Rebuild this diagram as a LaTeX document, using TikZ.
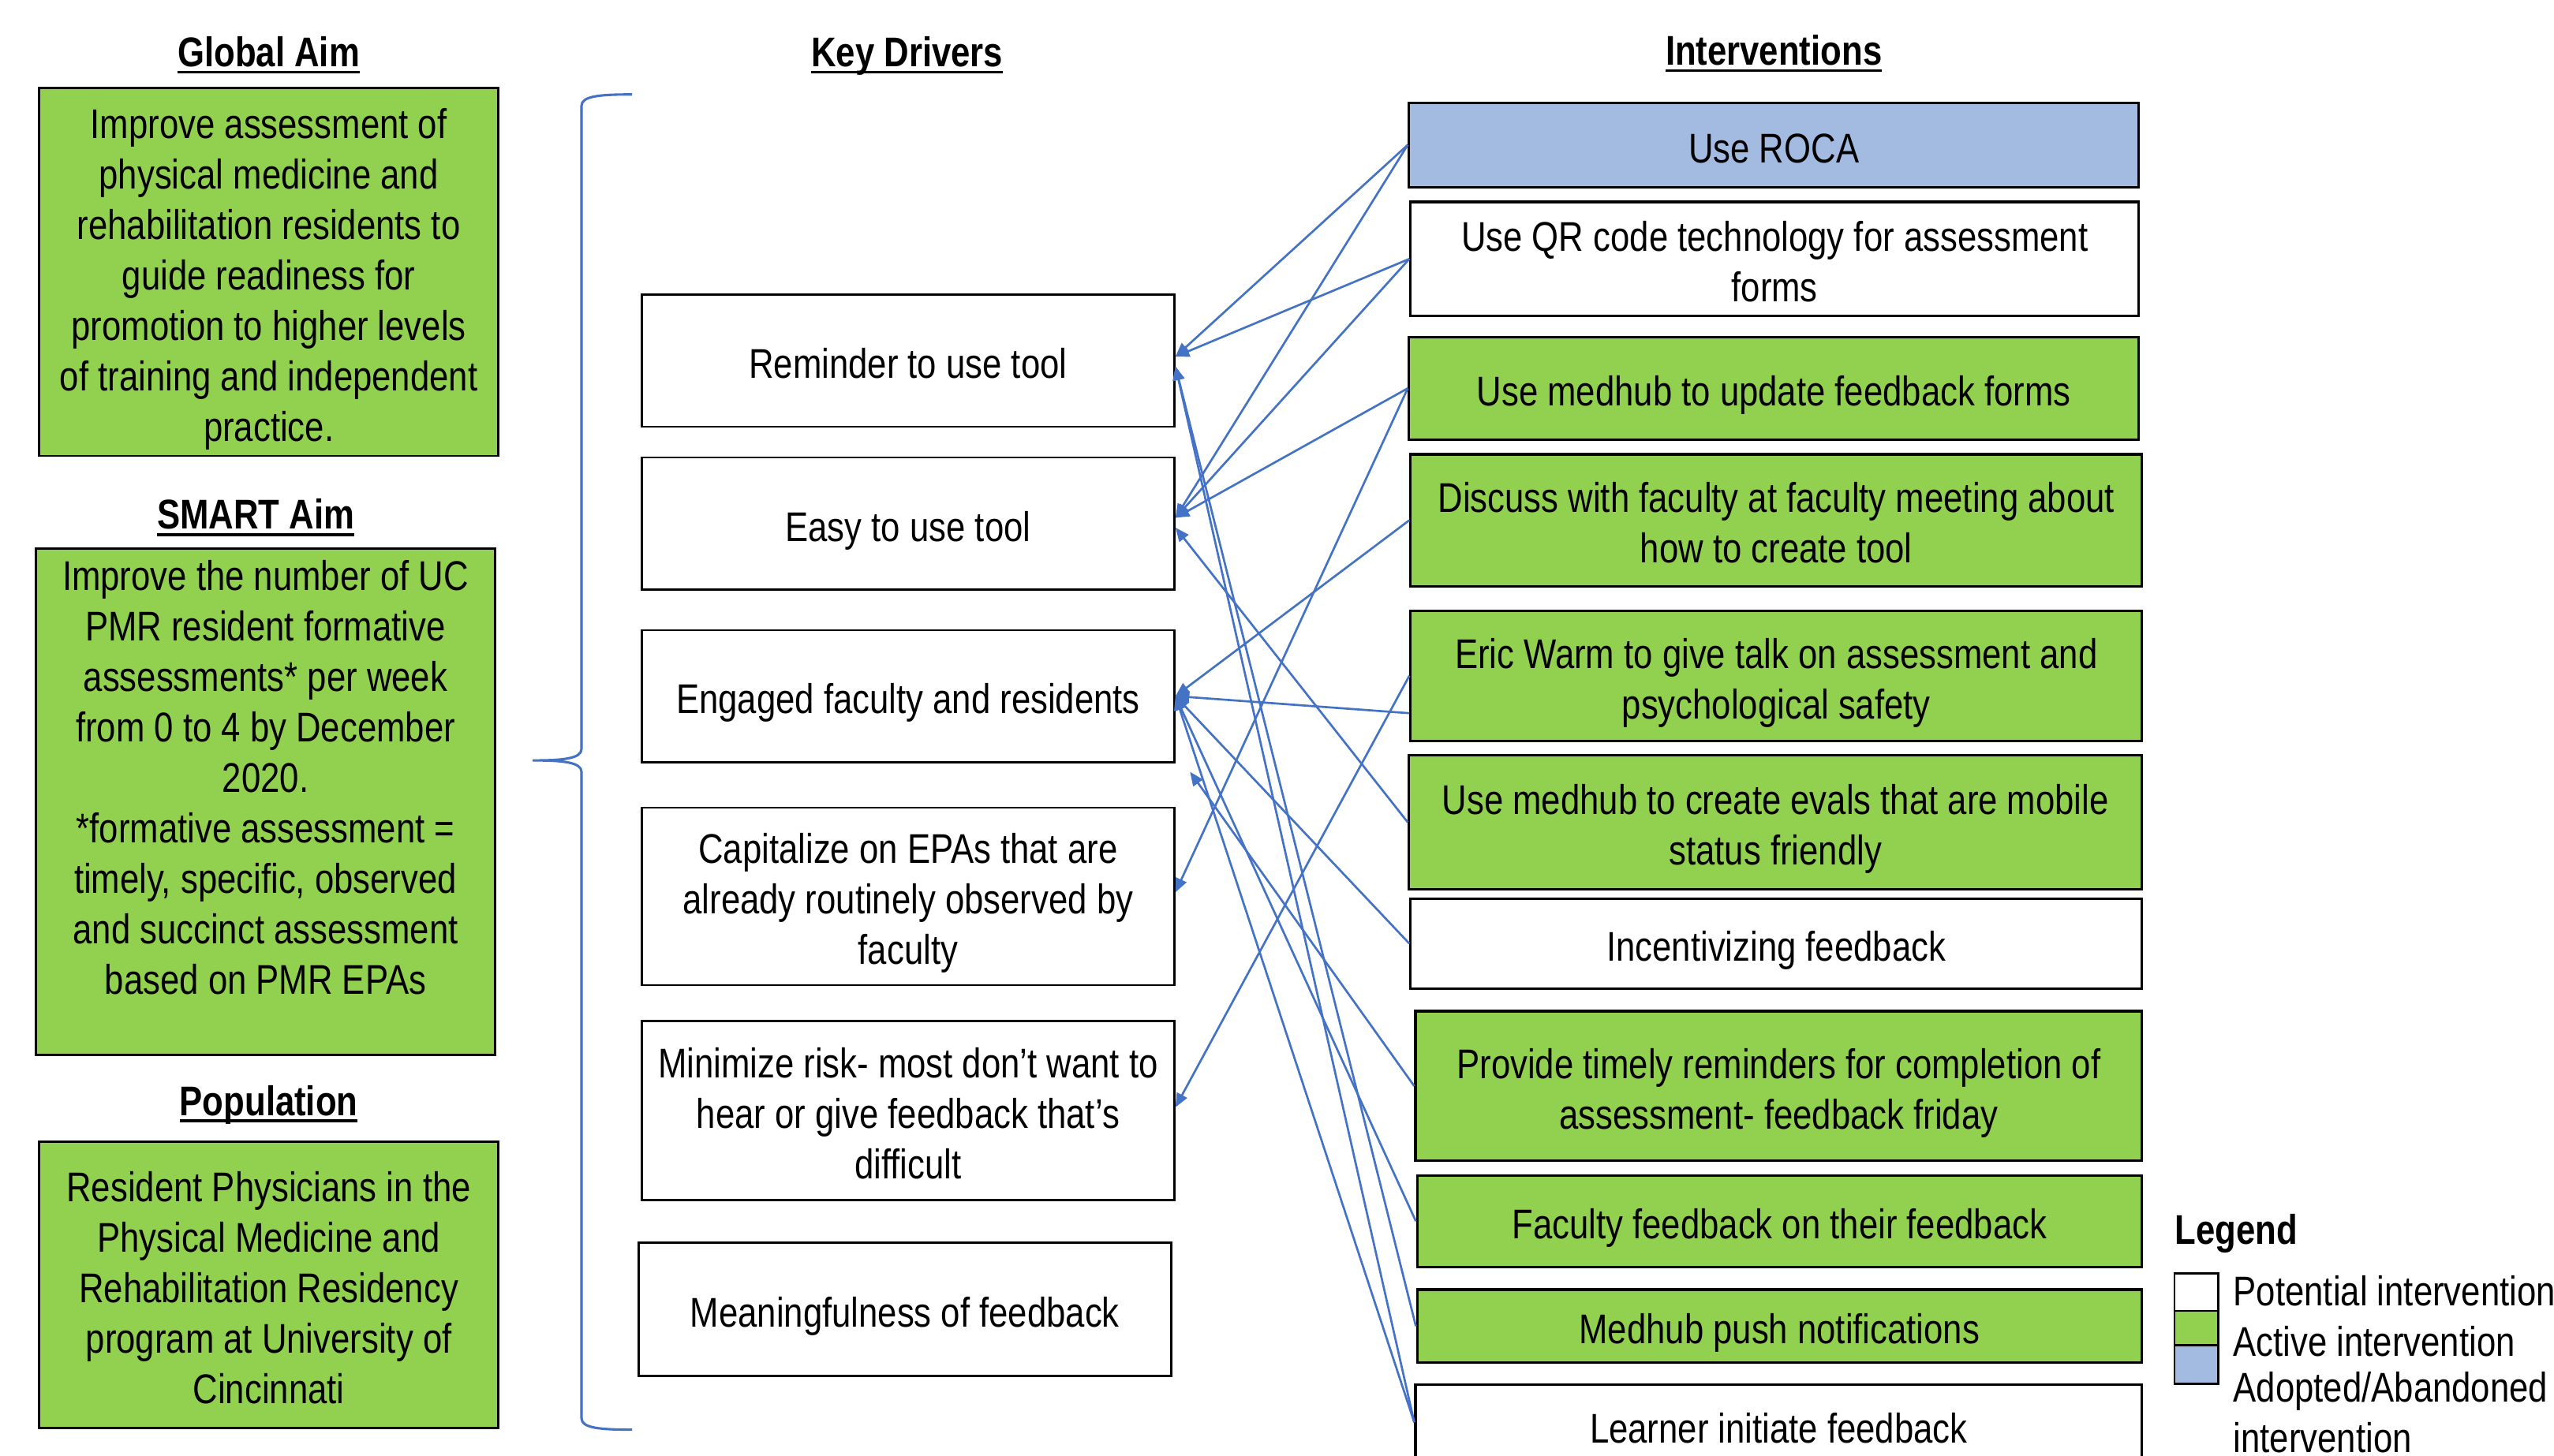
\documentclass[tikz,border=0pt]{standalone}
\usepackage{fontspec}
\setmainfont{Liberation Sans}[FakeStretch=0.83]
\usetikzlibrary{arrows.meta}
\definecolor{boxgreen}{RGB}{146,208,80}
\definecolor{boxblue}{RGB}{163,186,225}
\definecolor{linkblue}{RGB}{68,114,196}
\newcommand\fs{\fontsize{25.5}{31}\selectfont}
\newcommand\myul[1]{\setbox0=\hbox{#1}\rlap{\rule[-4.2pt]{\wd0}{1.8pt}}\box0}
\newcommand\topstrut{\rule{0pt}{27.6pt}}
\newcommand\botstrut{\rule[-6pt]{0pt}{6pt}}
\begin{document}
\begin{tikzpicture}[x=1pt,y=-1pt,
  box/.style={draw=black, line width=1.3pt, inner sep=0pt, align=center, font=\fs,
    execute at begin node=\topstrut, execute at end node=\botstrut},
  gbox/.style={box, fill=boxgreen},
  bbox/.style={box, fill=boxblue},
  wbox/.style={box, fill=white},
  ibox/.style={line width=1.5pt},
  head/.style={font=\fs\bfseries, inner sep=0pt, anchor=base},
  plain/.style={font=\fs, inner sep=0pt, align=center},
  conn/.style={draw=linkblue, line width=1.3pt, -{Triangle[length=8.5pt,width=7pt]}},
  bracestyle/.style={draw=linkblue, line width=1.5pt}]
\useasboundingbox (0,0) rectangle (1568,894);
\clip (0,0) rectangle (1568,894);
\fill[white] (0,0) rectangle (1568,894);

% headers
\node[head] (hga) at (165,41) {\myul{Global Aim}};
\node[head] (hkd) at (557,41) {\myul{Key Drivers}};
\node[head] (hint) at (1089,40) {\myul{Interventions}};
\node[head] (hsm) at (157,325) {\myul{SMART Aim}};
\node[head] (hpop) at (165,685) {\myul{Population}};
\node[head, anchor=base west] (hleg) at (1335,764) {Legend};

% left column
\node[gbox, minimum width=282, minimum height=226] (ga) at (165,167)
  {\topstrut Improve assessment of\\physical medicine and\\rehabilitation residents to\\guide readiness for\\promotion to higher levels\\of training and independent\\practice.\botstrut};
\node[gbox, minimum width=282, minimum height=311] (sm) at (163,492.5) {};
\node[plain] (smt) at (163,477.5)
  {Improve the number of UC\\PMR resident formative\\assessments* per week\\from 0 to 4 by December\\2020.\\*formative assessment =\\timely, specific, observed\\and succinct assessment\\based on PMR EPAs};
\node[gbox, minimum width=282, minimum height=176] (pop) at (165,789)
  {\topstrut Resident Physicians in the\\Physical Medicine and\\Rehabilitation Residency\\program at University of\\Cincinnati\botstrut};

% brace
\draw[bracestyle] (388,58) .. controls (368,58) and (357,59) .. (357,65) -- (357,460)
  .. controls (357,466) and (345,467) .. (327,467)
  .. controls (345,467) and (357,468) .. (357,474) -- (357,871)
  .. controls (357,877) and (368,878) .. (388,878);

% key drivers
\node[wbox, minimum width=327, minimum height=81] (rem) at (557.5,221.5) {Reminder to use tool};
\node[wbox, minimum width=327, minimum height=81] (easy) at (557.5,321.5) {Easy to use tool};
\node[wbox, minimum width=327, minimum height=81] (eng) at (557.5,427.5) {Engaged faculty and residents};
\node[wbox, minimum width=327, minimum height=109] (cap) at (557.5,550.5)
  {\topstrut Capitalize on EPAs that are\\already routinely observed by\\faculty\botstrut};
\node[wbox, minimum width=327, minimum height=110] (mini) at (557.5,682)
  {\topstrut Minimize risk- most don’t want to\\hear or give feedback that’s\\difficult\botstrut};
\node[wbox, minimum width=327, minimum height=82] (mean) at (555.5,804) {Meaningfulness of feedback};

% interventions
\node[bbox, ibox, minimum width=448, minimum height=52] (roca) at (1089,89) {Use ROCA};
\node[wbox, ibox, minimum width=447, minimum height=70] (qr) at (1089.5,159)
  {\topstrut Use QR code technology for assessment\\forms\botstrut};
\node[gbox, ibox, minimum width=448, minimum height=63] (mupd) at (1089,238.5)
  {Use medhub to update feedback forms};
\node[gbox, ibox, minimum width=449, minimum height=81] (disc) at (1090.5,319.5)
  {\topstrut Discuss with faculty at faculty meeting about\\how to create tool\botstrut};
\node[gbox, ibox, minimum width=449, minimum height=80] (eric) at (1090.5,415)
  {\topstrut Eric Warm to give talk on assessment and\\psychological safety\botstrut};
\node[gbox, ibox, minimum width=450, minimum height=82] (evals) at (1090,505)
  {\topstrut Use medhub to create evals that are mobile\\status friendly\botstrut};
\node[wbox, ibox, minimum width=449, minimum height=55] (incent) at (1090.5,579.5)
  {Incentivizing feedback};
\node[gbox, ibox, minimum width=446, minimum height=92] (prov) at (1092,667)
  {\topstrut Provide timely reminders for completion of\\assessment- feedback friday\botstrut};
\node[gbox, ibox, minimum width=445, minimum height=56] (facfb) at (1092.5,750)
  {Faculty feedback on their feedback};
\node[gbox, ibox, minimum width=445, minimum height=45] (push) at (1092.5,814.5)
  {Medhub push notifications};
\node[wbox, ibox, minimum width=446, minimum height=50] (learn) at (1092,875.5)
  {Learner initiate feedback};

% legend
\node[draw=black, line width=1.3pt, fill=white, inner sep=0pt, minimum width=27, minimum height=23] (lw) at (1348.5,793.5) {};
\node[draw=black, line width=1.3pt, fill=boxgreen, inner sep=0pt, minimum width=27, minimum height=21] (lg) at (1348.5,815.5) {};
\node[draw=black, line width=1.3pt, fill=boxblue, inner sep=0pt, minimum width=27, minimum height=24] (lb) at (1348.5,838) {};
\node[plain, anchor=west] (lwt) at (1371,793) {Potential intervention};
\node[plain, anchor=west] (lgt) at (1371,824) {Active intervention};
\node[plain, anchor=west, align=left] (lbt) at (1371,867.5) {Adopted/Abandoned\\intervention};

% connectors
\coordinate (provend) at (730.6,474);
\draw[conn] (roca.west) -- ([yshift=2.5pt]rem.east);
\draw[conn] (roca.west) -- ([yshift=3.5pt]easy.east);
\draw[conn] (qr.west) -- ([yshift=2.5pt]rem.east);
\draw[conn] (qr.west) -- ([yshift=3.5pt]easy.east);
\draw[conn] (mupd.west) -- ([yshift=3.5pt]easy.east);
\draw[conn] (mupd.west) -- ([yshift=2.5pt]cap.east);
\draw[conn] (disc.west) -- (eng.east);
\draw[conn] ([yshift=-23pt]eric.west) -- (eng.east);
\draw[conn] (eric.west) -- ([yshift=2pt]mini.east);
\draw[conn] (evals.west) -- ([yshift=-2.5pt]easy.east);
\draw[conn] (incent.west) -- (eng.east);
\draw[conn] (prov.west) -- (provend);
\draw[conn] (facfb.west) -- (eng.east);
\draw[conn] (push.west) -- ([yshift=-3.5pt]rem.east);
\draw[conn] ([yshift=2pt]learn.west) -- ([yshift=-3.5pt]rem.east);
\draw[conn] ([yshift=2pt]learn.west) -- (eng.east);
\end{tikzpicture}
\end{document}
